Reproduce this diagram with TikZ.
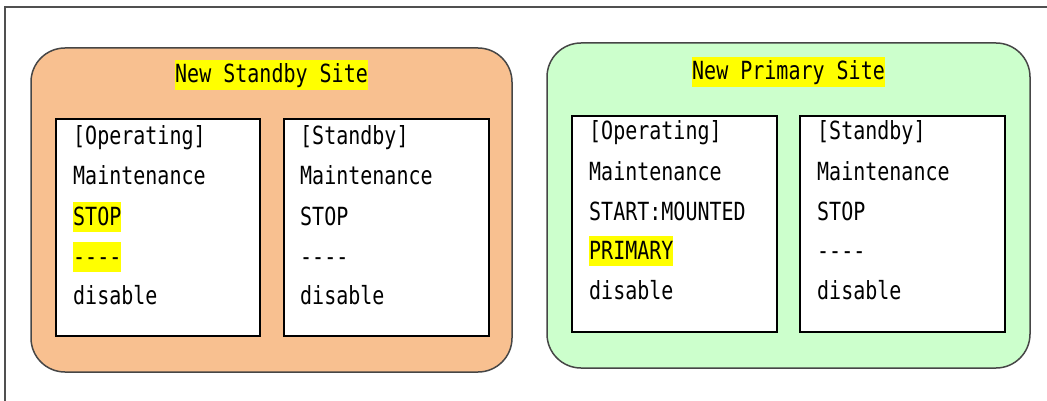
\documentclass[tikz,border=0pt]{standalone}
\usepackage{fontspec}
\newfontfamily\gothic[FakeStretch=0.8]{DejaVu Sans Mono}
\definecolor{sitestandby}{RGB}{248,192,144}
\definecolor{siteprimary}{RGB}{204,255,204}
\definecolor{hlyellow}{RGB}{255,255,0}
\definecolor{framegray}{RGB}{80,80,80}
\definecolor{siteborder}{RGB}{70,70,70}
\tikzset{
  sitebox/.style={draw=siteborder, line width=1.5pt, rounded corners=34pt},
  hostbox/.style={draw=black, line width=2pt, fill=white},
  txt/.style={anchor=base west, inner sep=0pt, font=\gothic\fontsize{25}{30}\selectfont},
  hl/.style={txt, fill=hlyellow, text height=23pt, text depth=7pt}
}
\begin{document}
\begin{tikzpicture}[x=1pt,y=-1pt]
\useasboundingbox (0,0) rectangle (1047,401);
% outer frame (top and left edges)
\coordinate (fa) at (5,401);
\coordinate (fb) at (5,7);
\coordinate (fc) at (1047,7);
\draw[framegray, line width=2pt] (fa) -- (fb) -- (fc);

% New Standby Site
\draw[sitebox, fill=sitestandby] (31,48) rectangle (512,372);
\node[hl] (t1) at (175,83) {New Standby Site};
\draw[hostbox] (56,119) rectangle (260,336);
\draw[hostbox] (284,119) rectangle (489,336);
\node[txt] (a1) at (73,145) {[Operating]};
\node[txt] (a2) at (73,185) {Maintenance};
\node[hl]  (a3) at (73,225) {STOP};
\node[hl]  (a4) at (73,265) {----};
\node[txt] (a5) at (73,304) {disable};
\node[txt] (b1) at (300,145) {[Standby]};
\node[txt] (b2) at (300,185) {Maintenance};
\node[txt] (b3) at (300,225) {STOP};
\node[txt] (b4) at (300,265) {----};
\node[txt] (b5) at (300,304) {disable};

% New Primary Site
\draw[sitebox, fill=siteprimary] (547,43) rectangle (1030,368);
\node[hl] (t2) at (692,80) {New Primary Site};
\draw[hostbox] (572,116) rectangle (777,332);
\draw[hostbox] (800,116) rectangle (1005,332);
\node[txt] (c1) at (589,140) {[Operating]};
\node[txt] (c2) at (589,180) {Maintenance};
\node[txt] (c3) at (589,220) {START:MOUNTED};
\node[hl]  (c4) at (589,259) {PRIMARY};
\node[txt] (c5) at (589,299) {disable};
\node[txt] (d1) at (817,140) {[Standby]};
\node[txt] (d2) at (817,180) {Maintenance};
\node[txt] (d3) at (817,220) {STOP};
\node[txt] (d4) at (817,259) {----};
\node[txt] (d5) at (817,299) {disable};
\end{tikzpicture}
\end{document}
